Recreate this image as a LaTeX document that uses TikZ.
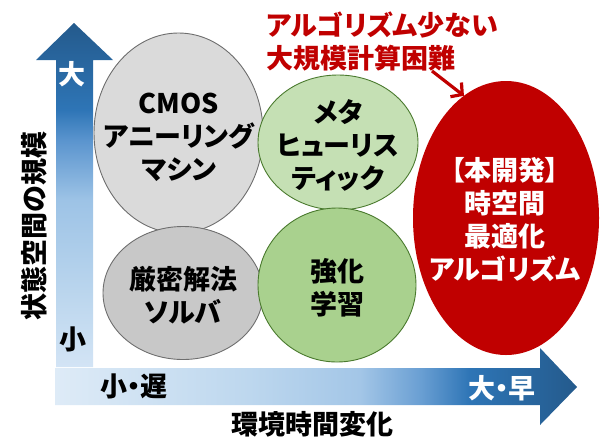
\documentclass[tikz,border=0pt]{standalone}
\usepackage{fontspec}
\setmainfont{Noto Sans CJK JP}[RawFeature=+palt]
\usetikzlibrary{shapes.geometric,arrows.meta}
\definecolor{vb0}{HTML}{D3E4F5}
\definecolor{vb1}{HTML}{BDD7EE}
\definecolor{vb2}{HTML}{9DC3E6}
\definecolor{vb3}{HTML}{5A94CE}
\definecolor{vb4}{HTML}{2E75B6}
\definecolor{vb5}{HTML}{245A8C}
\definecolor{hb0}{HTML}{DEEBF7}
\definecolor{hb1}{HTML}{BDD7EE}
\definecolor{hb2}{HTML}{A3C6E7}
\definecolor{hb3}{HTML}{6A9FD3}
\definecolor{hb4}{HTML}{2E75B6}
\definecolor{hb5}{HTML}{245A8C}
\definecolor{cmosfill}{HTML}{DADADA}
\definecolor{exactfill}{HTML}{C8C8C8}
\definecolor{outgrey}{HTML}{6E6E6E}
\definecolor{metafill}{HTML}{C5E0B4}
\definecolor{rlfill}{HTML}{A9D18E}
\definecolor{outgreen}{HTML}{4A7A2E}
\definecolor{darkred}{HTML}{C00000}
\pgfdeclareverticalshading{vgrad}{100bp}{color(0bp)=(vb0); color(25bp)=(vb0); color(34.7bp)=(vb1); color(49.3bp)=(vb2); color(58bp)=(vb3); color(62.4bp)=(vb4); color(75bp)=(vb5); color(100bp)=(vb5)}
\pgfdeclarehorizontalshading{hgrad}{100bp}{color(0bp)=(hb0); color(25bp)=(hb0); color(43.6bp)=(hb1); color(54.2bp)=(hb2); color(60bp)=(hb3); color(64.7bp)=(hb4); color(75bp)=(hb5); color(100bp)=(hb5)}
\begin{document}
\begin{tikzpicture}[x=1pt,y=-1pt,
  lbl/.style={font=\bfseries\fontsize{27}{33}\selectfont, align=center, inner sep=0pt},
  ell/.style={ellipse, inner sep=0pt, outer sep=0pt},
  greyell/.style={ell, draw=outgrey, line width=0.9pt},
  greenell/.style={ell, draw=outgreen, line width=0.9pt},
  redarrow/.style={draw=darkred, line width=3.2pt, -{Straight Barb[length=8pt,width=18pt]}}]
\useasboundingbox (0,0) rectangle (609,437);
% axes
\shade[shading=vgrad] (56,367) -- (56,60) -- (36,60) -- (74,23) -- (113,60) -- (93,60) -- (93,367) -- cycle;
\shade[shading=hgrad] (55,368) -- (540,368) -- (540,348) -- (577,387) -- (540,425) -- (540,405) -- (55,405) -- cycle;
% ellipses
\node[greyell, fill=cmosfill, minimum width=169pt, minimum height=200pt] (cmos) at (178.5,133) {};
\node[greyell, fill=exactfill, minimum width=160pt, minimum height=133pt] (exact) at (183,293) {};
\node[greenell, fill=metafill, minimum width=160pt, minimum height=135pt] (meta) at (338,142.5) {};
\node[greenell, fill=rlfill, minimum width=158pt, minimum height=154pt] (rl) at (337,285) {};
\node[ell, fill=darkred, minimum width=186pt, minimum height=274pt] (red) at (506,218) {};
% texts
\node[lbl] (cmost) at (179,137) {CMOS\\アニーリング\\マシン};
\node[lbl] (exactt) at (183,295) {厳密解法\\ソルバ};
\node[lbl] (metat) at (338,145) {メタ\\ヒューリス\\ティック};
\node[lbl] (rlt) at (337,288) {強化\\学習};
\node[lbl, text=white] (redt) at (505,220) {【本開発】\\時空間\\最適化\\アルゴリズム};
\node[lbl, text=darkred, align=left, anchor=west] (title) at (266,41) {アルゴリズム少ない\\大規模計算困難};
\coordinate (src) at (432,71);
\draw[redarrow] (src) -- (red.109);
% axis labels
\node[lbl, text=white] (ybig) at (72,74) {大};
\node[lbl] (ysmall) at (73,339) {小};
\node[lbl] (xsmall) at (134,386) {小・遅};
\node[lbl, text=white] (xbig) at (502,388) {大・早};
\node[lbl, rotate=90] (ylab) at (34,226) {状態空間の規模};
\node[lbl] (xlab) at (312,424) {環境時間変化};
\end{tikzpicture}
\end{document}
